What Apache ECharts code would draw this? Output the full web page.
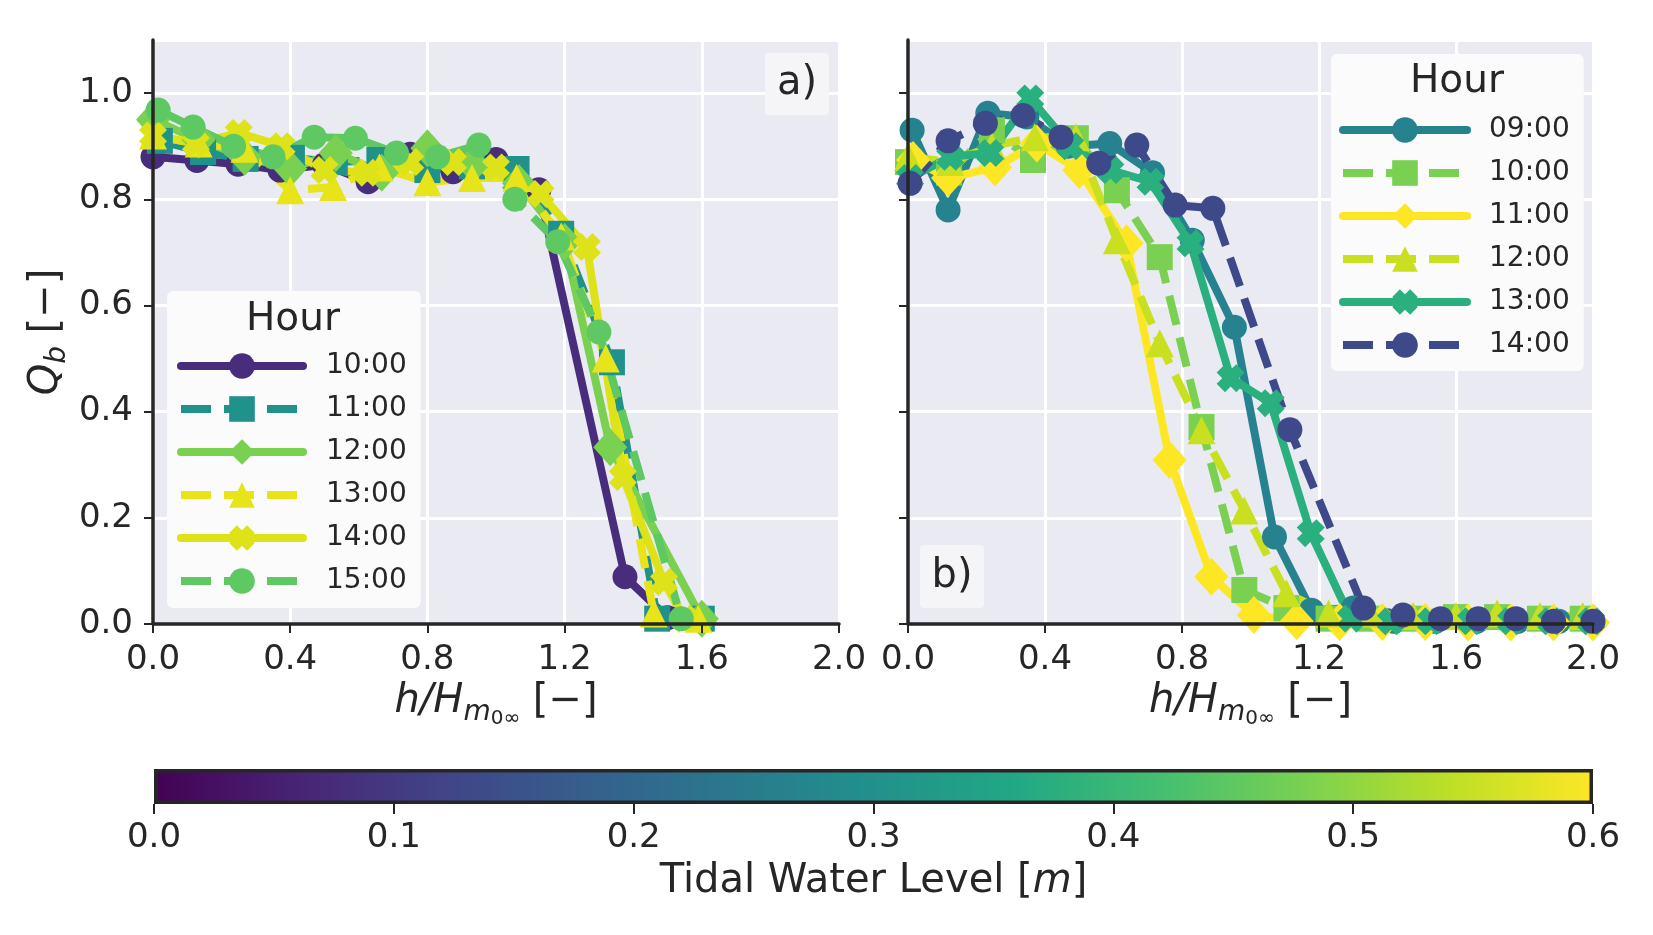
<!DOCTYPE html>
<html>
<head>
<meta charset="utf-8">
<script src="https://cdn.jsdelivr.net/npm/echarts@6.0.0/dist/echarts.min.js"></script>
<style>
  html, body { margin: 0; background: #fff; }
  #chart { width: 1653px; height: 935px; }
</style>
</head>
<body>
<div id="chart"></div>
<script>
// panel a) values, h/Hm0 (x) and Qb (y) per hour
const a10x = [0.0, 0.128, 0.248, 0.37, 0.5, 0.627, 0.75, 0.875, 1.0, 1.125, 1.376, 1.5]
const a10y = [0.88, 0.873, 0.866, 0.855, 0.865, 0.833, 0.885, 0.852, 0.875, 0.818, 0.089, 0.012]
const a11x = [0.02, 0.146, 0.27, 0.405, 0.53, 0.66, 0.8, 0.93, 1.06, 1.19, 1.338, 1.47, 1.6]
const a11y = [0.91, 0.889, 0.876, 0.878, 0.87, 0.874, 0.855, 0.862, 0.857, 0.735, 0.493, 0.01, 0.01]
const a12x = [0.0, 0.133, 0.267, 0.4, 0.533, 0.667, 0.8, 0.933, 1.067, 1.2, 1.333, 1.6]
const a12y = [0.95, 0.912, 0.88, 0.858, 0.887, 0.85, 0.896, 0.865, 0.83, 0.72, 0.333, 0.01]
const a13x = [0.0, 0.133, 0.267, 0.4, 0.525, 0.66, 0.8, 0.93, 1.06, 1.19, 1.32, 1.46, 1.59]
const a13y = [0.92, 0.905, 0.895, 0.817, 0.823, 0.86, 0.832, 0.84, 0.84, 0.73, 0.5, 0.02, 0.01]
const a14x = [0.0, 0.125, 0.25, 0.375, 0.5, 0.625, 0.75, 0.875, 1.0, 1.13, 1.265, 1.37, 1.49, 1.55]
const a14y = [0.92, 0.905, 0.925, 0.9, 0.855, 0.85, 0.87, 0.87, 0.86, 0.81, 0.71, 0.277, 0.079, 0.01]
const a15x = [0.015, 0.117, 0.235, 0.35, 0.47, 0.59, 0.71, 0.83, 0.95, 1.055, 1.18, 1.3, 1.54]
const a15y = [0.968, 0.936, 0.9, 0.88, 0.917, 0.915, 0.887, 0.88, 0.902, 0.8, 0.72, 0.55, 0.01]

// panel b) values
const b09x = [0.012, 0.117, 0.233, 0.347, 0.468, 0.589, 0.714, 0.83, 0.953, 1.07, 1.178, 1.3, 1.42, 1.54, 1.66, 1.78, 1.9]
const b09y = [0.93, 0.78, 0.962, 0.955, 0.9, 0.905, 0.85, 0.723, 0.559, 0.164, 0.026, 0.03, 0.005, 0.005, 0.005, 0.005, 0.005]
const b10x = [0.0, 0.12, 0.245, 0.365, 0.49, 0.61, 0.735, 0.857, 0.982, 1.105, 1.228, 1.35, 1.475, 1.6, 1.72, 1.845, 1.97]
const b10y = [0.87, 0.85, 0.93, 0.874, 0.915, 0.817, 0.691, 0.371, 0.064, 0.03, 0.01, 0.01, 0.01, 0.013, 0.013, 0.01, 0.01]
const b11x = [0.015, 0.117, 0.254, 0.376, 0.5, 0.638, 0.764, 0.886, 1.01, 1.135, 1.26, 1.385, 1.51, 1.635, 1.76, 1.885, 2.0]
const b11y = [0.874, 0.84, 0.86, 0.905, 0.855, 0.717, 0.309, 0.089, 0.017, 0.005, 0.004, 0.004, 0.004, 0.003, 0.003, 0.003, 0.003]
const b12x = [0.0, 0.123, 0.245, 0.37, 0.49, 0.61, 0.735, 0.857, 0.982, 1.105, 1.228, 1.35, 1.475, 1.6, 1.72, 1.845, 1.97]
const b12y = [0.88, 0.87, 0.9, 0.917, 0.917, 0.723, 0.529, 0.365, 0.214, 0.058, 0.02, 0.02, 0.015, 0.015, 0.02, 0.015, 0.015]
const b13x = [0.006, 0.123, 0.24, 0.357, 0.474, 0.591, 0.708, 0.825, 0.942, 1.059, 1.176, 1.293, 1.41, 1.527, 1.644, 1.761, 1.878, 1.995]
const b13y = [0.84, 0.88, 0.887, 0.99, 0.9, 0.855, 0.833, 0.717, 0.463, 0.416, 0.171, 0.01, 0.005, 0.005, 0.005, 0.005, 0.005, 0.005]
const b14x = [0.006, 0.117, 0.226, 0.336, 0.447, 0.557, 0.668, 0.78, 0.89, 1.115, 1.33, 1.445, 1.555, 1.665, 1.775, 1.885, 2.0]
const b14y = [0.83, 0.91, 0.943, 0.958, 0.917, 0.868, 0.902, 0.789, 0.783, 0.366, 0.03, 0.017, 0.01, 0.01, 0.01, 0.005, 0.005]

// ticks
const yTicks = [0, 0.2, 0.4, 0.6, 0.8, 1.0]
const levelTicks = [0, 0.1, 0.2, 0.3, 0.4, 0.5, 0.6]
const levelMax = 0.6

const FONT = 'DejaVu Sans'
const INK = '#262626'
const XMARK = 'path://M0,3 L3,0 L5,2 L7,0 L10,3 L8,5 L10,7 L7,10 L5,8 L3,10 L0,7 L2,5 Z'
const SIZES = { circle: 25, rect: 26, diamond: [34, 38], triangle: 28 }

const viridis = ['#440154', '#482475', '#414487', '#355f8d', '#2a788e', '#21918c',
  '#22a884', '#44bf70', '#7ad151', '#bddf26', '#fde725']

const panelA = [
  { name: '10:00', x: a10x, y: a10y, color: '#472d7b', symbol: 'circle', dashed: false },
  { name: '11:00', x: a11x, y: a11y, color: '#21918c', symbol: 'rect', dashed: true },
  { name: '12:00', x: a12x, y: a12y, color: '#7ad151', symbol: 'diamond', dashed: false },
  { name: '13:00', x: a13x, y: a13y, color: '#e7e419', symbol: 'triangle', dashed: true },
  { name: '14:00', x: a14x, y: a14y, color: '#dde318', symbol: XMARK, dashed: false },
  { name: '15:00', x: a15x, y: a15y, color: '#5ec962', symbol: 'circle', dashed: true }
]
const panelB = [
  { name: '09:00', x: b09x, y: b09y, color: '#26828e', symbol: 'circle', dashed: false },
  { name: '10:00', x: b10x, y: b10y, color: '#7ad151', symbol: 'rect', dashed: true },
  { name: '11:00', x: b11x, y: b11y, color: '#fde725', symbol: 'diamond', dashed: false },
  { name: '12:00', x: b12x, y: b12y, color: '#c8e020', symbol: 'triangle', dashed: true },
  { name: '13:00', x: b13x, y: b13y, color: '#2ab07f', symbol: XMARK, dashed: false },
  { name: '14:00', x: b14x, y: b14y, color: '#3e4989', symbol: 'circle', dashed: true }
]

function makeSeries (list, prefix, gi) {
  return list.map(s => ({
    type: 'line',
    name: prefix + s.name,
    xAxisIndex: gi,
    yAxisIndex: gi,
    data: s.x.map((v, i) => [v, s.y[i]]),
    symbol: s.symbol,
    symbolSize: SIZES[s.symbol] || 28,
    color: s.color,
    itemStyle: { color: s.color },
    lineStyle: {
      color: s.color,
      width: 8,
      type: s.dashed ? [30, 13] : 'solid',
      cap: s.dashed ? 'butt' : 'round',
      join: 'round'
    }
  }))
}

const richText = {
  i: { fontFamily: FONT, fontSize: 40, fontStyle: 'italic', color: INK, verticalAlign: 'bottom', padding: [0, 0, 14, 0] },
  s: { fontFamily: FONT, fontSize: 28, fontStyle: 'italic', color: INK, verticalAlign: 'bottom', padding: [0, 0, 9, 0] },
  ss: { fontFamily: FONT, fontSize: 20, color: INK, verticalAlign: 'bottom', padding: [0, 0, 7, 0] },
  n: { fontFamily: FONT, fontSize: 40, color: INK, verticalAlign: 'bottom', padding: [0, 0, 14, 0] }
}

const WHITE_LINE = { show: true, lineStyle: { color: '#ffffff', width: 3 } }
const SPINE = { show: true, onZero: false, lineStyle: { color: INK, width: 3.5 } }

// grid lines only, under the series
function xGrid (gi) {
  return {
    type: 'value', gridIndex: gi, position: 'bottom', min: 0, max: 2, interval: 0.4,
    axisLine: { show: false }, axisTick: { show: false }, axisLabel: { show: false },
    splitLine: WHITE_LINE
  }
}
function yGrid (gi) {
  return {
    type: 'value', gridIndex: gi, position: 'left', min: 0, max: 1.1, interval: 0.2,
    axisLine: { show: false }, axisTick: { show: false }, axisLabel: { show: false },
    splitLine: WHITE_LINE
  }
}

// spines, ticks, labels drawn over the series
function xFront (gi) {
  return {
    type: 'value',
    gridIndex: gi,
    position: 'bottom',
    z: 6,
    min: 0,
    max: 2,
    interval: 0.4,
    name: '{i|h/H}{s|m}{ss|0∞}{n| [−]}',
    nameLocation: 'middle',
    nameGap: 57,
    nameTextStyle: { fontFamily: FONT, fontSize: 40, color: INK, rich: richText },
    axisLine: SPINE,
    axisTick: { show: true, length: 9, lineStyle: { color: INK, width: 2 } },
    axisLabel: { margin: 19, color: INK, fontSize: 34, fontFamily: FONT, formatter: v => v.toFixed(1) },
    splitLine: { show: false }
  }
}
function yFront (gi, withLabels) {
  return {
    type: 'value',
    gridIndex: gi,
    position: 'left',
    z: 6,
    min: 0,
    max: 1.1,
    interval: 0.2,
    name: withLabels ? '{i|Q}{s|b}{n| [−]}' : '',
    nameLocation: 'middle',
    nameRotate: 90,
    nameGap: 72,
    nameTextStyle: { fontFamily: FONT, fontSize: 40, color: INK, rich: richText },
    axisLine: SPINE,
    axisTick: { show: true, length: 9, customValues: yTicks, lineStyle: { color: INK, width: 2 } },
    axisLabel: {
      show: withLabels,
      customValues: yTicks,
      margin: 20,
      color: INK,
      fontSize: 34,
      fontFamily: FONT,
      formatter: v => v.toFixed(1)
    },
    splitLine: { show: false }
  }
}

function legend (list, prefix, left, top, pad, iw, tp) {
  return {
    orient: 'vertical',
    left: left,
    top: top,
    padding: pad,
    itemWidth: iw,
    itemHeight: 32,
    itemGap: 15,
    selectedMode: false,
    backgroundColor: '#fbfbfc',
    borderRadius: 6,
    lineStyle: { width: 8 },
    data: list.map(s => prefix + s.name),
    formatter: n => n.slice(prefix.length),
    textStyle: { fontFamily: FONT, fontSize: 28, color: INK, padding: [0, 0, 0, tp] }
  }
}

// white masks that cut markers off at the plot edges, like the axes clipping
function mask (x, y, w, h) {
  return { type: 'rect', z: 3, silent: true, shape: { x: x, y: y, width: w, height: h }, style: { fill: '#ffffff' } }
}

const chart = echarts.init(document.getElementById('chart'))

const option = {
  animation: false,
  backgroundColor: '#ffffff',
  grid: [
    { left: 153, top: 40, width: 686, height: 584, show: true, backgroundColor: '#eaeaf2', borderWidth: 0, containLabel: false, outerBoundsMode: 'none' },
    { left: 908, top: 40, width: 685, height: 584, show: true, backgroundColor: '#eaeaf2', borderWidth: 0, containLabel: false, outerBoundsMode: 'none' },
    { left: 154, top: 769, width: 1439, height: 35, show: false, containLabel: false, outerBoundsMode: 'none' }
  ],
  xAxis: [
    xGrid(0),
    xGrid(1),
    {
      type: 'value',
      gridIndex: 2,
      min: 0,
      max: levelMax,
      interval: 0.1,
      name: 'Tidal Water Level [{it|m}]',
      nameLocation: 'middle',
      nameGap: 58,
      nameTextStyle: {
        fontFamily: FONT, fontSize: 40, color: INK,
        rich: { it: { fontFamily: FONT, fontSize: 40, fontStyle: 'italic', color: INK } }
      },
      axisLine: { show: false },
      axisTick: { show: true, length: 10, customValues: levelTicks, lineStyle: { color: INK, width: 2 } },
      axisLabel: { customValues: levelTicks, margin: 17, color: INK, fontSize: 34, fontFamily: FONT, formatter: v => v.toFixed(1) },
      splitLine: { show: false }
    },
    xFront(0),
    xFront(1)
  ],
  yAxis: [
    yGrid(0),
    yGrid(1),
    { type: 'category', gridIndex: 2, data: ['level'], show: false },
    yFront(0, true),
    yFront(1, false)
  ],
  legend: [
    legend(panelA, 'a ', 167, 291, [61, 14, 13, 10], 122, 18),
    legend(panelB, 'b ', 1331, 54, [62, 14, 12, 8], 124, 17)
  ],
  series: [
    ...makeSeries(panelA, 'a ', 0),
    ...makeSeries(panelB, 'b ', 1),
    {
      type: 'bar',
      xAxisIndex: 2,
      yAxisIndex: 2,
      data: [levelMax],
      barWidth: '100%',
      silent: true,
      itemStyle: {
        borderColor: INK,
        borderWidth: 3.5,
        color: {
          type: 'linear', x: 0, y: 0, x2: 1, y2: 0,
          colorStops: viridis.map((c, i) => ({ offset: i / (viridis.length - 1), color: c }))
        }
      }
    }
  ],
  graphic: [
    mask(100, 624, 1540, 24),
    mask(110, 20, 43, 606),
    mask(839, 20, 69, 606),
    mask(1593, 20, 50, 606),
    { type: 'rect', z: 10, shape: { x: 765, y: 53, width: 64, height: 62, r: 4 }, style: { fill: '#f5f5f8' } },
    { type: 'text', z: 11, x: 797, y: 84, style: { text: 'a)', fontFamily: FONT, fontSize: 40, fill: INK, align: 'center', verticalAlign: 'middle' } },
    { type: 'rect', z: 10, shape: { x: 920, y: 545, width: 64, height: 63, r: 4 }, style: { fill: '#f5f5f8' } },
    { type: 'text', z: 11, x: 952, y: 577, style: { text: 'b)', fontFamily: FONT, fontSize: 40, fill: INK, align: 'center', verticalAlign: 'middle' } },
    { type: 'text', z: 50, x: 293, y: 320, style: { text: 'Hour', fontFamily: FONT, fontSize: 39, fill: INK, align: 'center', verticalAlign: 'middle' } },
    { type: 'text', z: 50, x: 1457, y: 82, style: { text: 'Hour', fontFamily: FONT, fontSize: 39, fill: INK, align: 'center', verticalAlign: 'middle' } }
  ]
}

chart.setOption(option)
</script>
</body>
</html>
